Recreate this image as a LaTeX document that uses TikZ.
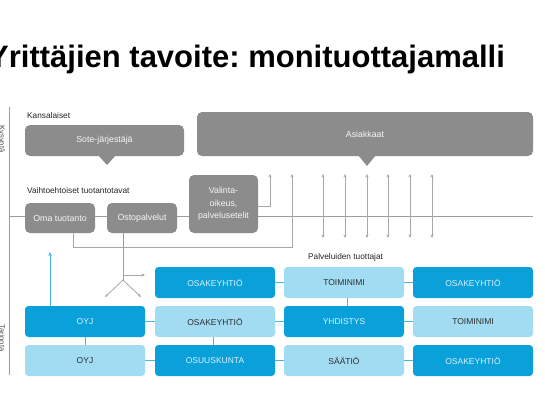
\documentclass[tikz,border=0pt]{standalone}
\usepackage{fontspec}
\setmainfont{Liberation Sans}
\usetikzlibrary{arrows.meta}
\definecolor{dblue}{HTML}{0AA0DA}
\definecolor{lblue}{HTML}{A2DCF3}
\definecolor{bline}{HTML}{45B6E4}
\definecolor{gbox}{HTML}{8C8C8C}
\definecolor{gline}{HTML}{9C9C9C}
\definecolor{garrow}{HTML}{A8A8A8}
\frenchspacing
\begin{document}
\begin{tikzpicture}[x=1pt,y=-1pt,
  gbx/.style={fill=gbox, rounded corners=5pt, text=white!92!gbox, align=center, inner sep=0pt,
    font=\fontsize{8.8}{12.5}\selectfont},
  bbx/.style={rounded corners=3.5pt, minimum width=120pt, minimum height=31pt, inner sep=0pt,
    font=\fontsize{8.5}{10}\selectfont},
  dbx/.style={bbx, fill=dblue, text=white!85!dblue},
  lbx/.style={bbx, fill=lblue, text=black!82},
  lab/.style={anchor=west, inner sep=0pt, font=\fontsize{8.3}{10}\selectfont, text=black!85},
  side/.style={rotate=-90, inner sep=0pt, font=\fontsize{7.5}{9}\selectfont, text=black!70},
  gl/.style={draw=gline, line width=0.8pt},
  ga/.style={draw=garrow, line width=0.8pt, -{Stealth[length=3.5pt,width=3pt]}},
  gda/.style={draw=garrow, line width=0.8pt, {Stealth[length=3.5pt,width=3pt]}-{Stealth[length=3.5pt,width=3pt]}},
  bl/.style={draw=bline, line width=1pt}
]
\useasboundingbox (0,0) rectangle (545,412);
\fill[white] (0,0) rectangle (545,412);

% title
\node[anchor=base west, inner sep=0pt, font=\bfseries\fontsize{31}{33}\selectfont] (title) at (-12,67) {Yrittäjien tavoite: monituottajamalli};

% side labels and axes
\node[side] (kys) at (1.5,139) {Kysyntä};
\node[side] (tar) at (1.5,338) {Tarjonta};
\coordinate (axT) at (9,107);
\coordinate (axB) at (9,375);
\coordinate (axM) at (9,216);
\coordinate (axR) at (533,216);
\draw[gl] (axT) -- (axB);
\draw[gl] (axM) -- (axR);

% labels
\node[lab] (kans) at (27,116) {Kansalaiset};
\node[lab] (vaiht) at (27,191) {Vaihtoehtoiset tuotantotavat};
\node[lab] (palv) at (308,257) {Palveluiden tuottajat};

% grey boxes
\node[gbx, minimum width=159pt, minimum height=31pt] (sote) at (104.5,140.5) {Sote-järjestäjä};
\fill[gbox] (98,155) -- (116,155) -- (107,165) -- cycle;
\node[gbx, minimum width=336pt, minimum height=44pt] (asi) at (365,134) {Asiakkaat};
\fill[gbox] (358,155) -- (376,155) -- (367,166) -- cycle;

% connectors in the middle (drawn before boxes)
\coordinate (vtip) at (270,174);
\coordinate (otip) at (292,174);
\coordinate (ocorner) at (292,247);
\coordinate (branch) at (123,280);
\coordinate (rtip) at (145,275);
\coordinate (rstart) at (123,275);
\coordinate (dl) at (105,297);
\coordinate (dr) at (141,297);

\node[gbx, minimum width=70pt, minimum height=30pt] (oma) at (60,218) {Oma tuotanto};
\node[gbx, minimum width=70pt, minimum height=30pt] (osto) at (142,218) {Ostopalvelut};
\node[gbx, minimum width=69pt, minimum height=58pt] (val) at (223.5,204) {Valinta-\\oikeus,\\palvelusetelit};

\draw[ga] ([yshift=-2pt]val.east) -| (vtip);
\draw[ga] ([xshift=13pt]oma.south) |- (ocorner) -- (otip);
\draw[gl] ([xshift=-19pt]osto.south) -- (branch);
\draw[ga] (rstart) -- (rtip);
\draw[ga] (branch) -- (dl);
\draw[ga] (branch) -- (dr);

% double arrows
\foreach \i/\x in {1/323,2/345,3/367,4/388,5/410,6/432}{
  \coordinate (u\i) at (\x,174);
  \coordinate (d\i) at (\x,238);
  \draw[gda] (u\i) -- (d\i);
}

% blue boxes
\node[dbx] (b12) at (215,282.5) {OSAKEYHTIÖ};
\node[lbx] (b13) at (344,282.5) {TOIMINIMI};
\node[dbx] (b14) at (473,282.5) {OSAKEYHTIÖ};
\node[dbx] (b21) at (85,321.5) {OYJ};
\node[lbx] (b22) at (215,321.5) {OSAKEYHTIÖ};
\node[dbx] (b23) at (344,321.5) {YHDISTYS};
\node[lbx] (b24) at (473,321.5) {TOIMINIMI};
\node[lbx] (b31) at (85,360.5) {OYJ};
\node[dbx] (b32) at (215,360.5) {OSUUSKUNTA};
\node[lbx] (b33) at (344,360.5) {SÄÄTIÖ};
\node[dbx] (b34) at (473,360.5) {OSAKEYHTIÖ};

% blue connectors
\draw[bl] (b12) -- (b13);
\draw[bl] (b13) -- (b14);
\draw[bl] (b21) -- (b22);
\draw[bl] (b22) -- (b23);
\draw[bl] (b23) -- (b24);
\draw[bl] (b31) -- (b32);
\draw[bl] (b32) -- (b33);
\draw[bl] (b33) -- (b34);
\draw[bl] (b21) -- (b31);
\draw[bl] ([xshift=-2pt]b22.south) -- ([xshift=-2pt]b32.north);
\draw[bl] ([xshift=3pt]b13.south) -- ([xshift=3pt]b23.north);
\coordinate (btip) at (50,252);
\draw[bl, -{Stealth[length=4pt,width=3.5pt]}] ([xshift=-35pt]b21.north) -- (btip);
\end{tikzpicture}
\end{document}
